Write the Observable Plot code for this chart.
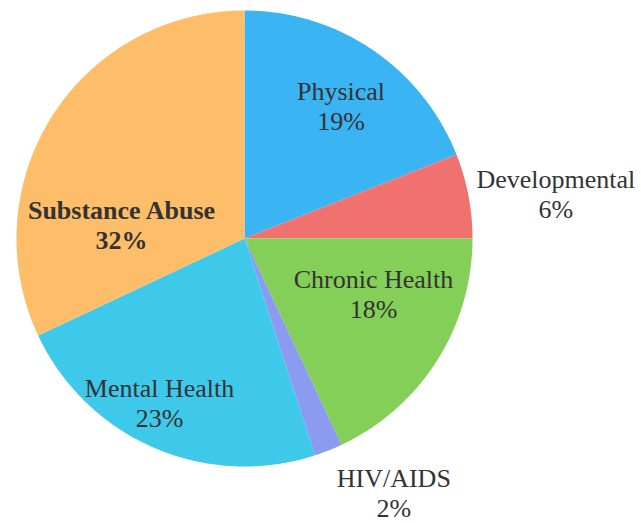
<!DOCTYPE html>
<html>
<head>
<meta charset="utf-8">
<script src="https://cdn.jsdelivr.net/npm/d3@7"></script>
<script src="https://cdn.jsdelivr.net/npm/@observablehq/plot@0.6"></script>
<style>
  html, body { margin: 0; padding: 0; background: #fff; }
  #chart svg { display: block; }
</style>
</head>
<body>
<div id="chart"></div>
<script>
// ---- data ----
const categories = ["Physical", "Developmental", "Chronic Health", "HIV/AIDS", "Mental Health", "Substance Abuse"];
const values = [19, 6, 18, 2, 23, 32];
const colors = ["#3ab4f2", "#f0726f", "#84cf57", "#8a9bf0", "#3ec8ea", "#fdbd69"];

// ---- layout (label placement, polar: degrees clockwise from 12 o'clock, radius in pie radii) ----
const labelAngle = [36, 81.8, 113.1, 149.5, 207.4, 276.5];
const labelRadius = [0.72, 1.38, 0.615, 1.29, 0.81, 0.543];
const boldLabels = ["Substance Abuse"];

const W = 641, H = 523;
const cx = 244, cy = 238, R = 228; // pixel placement of the pie

// build slice polygons from the values
const total = d3.sum(values);
const slices = [];
let acc = 0;
categories.forEach((name, i) => {
  const a0 = acc / total * 2 * Math.PI;
  acc += values[i];
  const a1 = acc / total * 2 * Math.PI;
  const n = Math.max(2, Math.ceil((a1 - a0) / (Math.PI / 360)));
  slices.push({name, x: 0, y: 0});
  for (let k = 0; k <= n; k++) {
    const a = a0 + (a1 - a0) * k / n;
    slices.push({name, x: Math.sin(a), y: Math.cos(a)});
  }
  slices.push({name, x: 0, y: 0});
});

const labels = categories.map((name, i) => {
  const a = labelAngle[i] * Math.PI / 180;
  return {
    name,
    text: `${name}\n${values[i]}%`,
    x: labelRadius[i] * Math.sin(a),
    y: labelRadius[i] * Math.cos(a)
  };
});

const chart = Plot.plot({
  width: W,
  height: H,
  margin: 0,
  x: {domain: [-cx / R, (W - cx) / R], range: [0, W], axis: null},
  y: {domain: [-(H - cy) / R, cy / R], range: [H, 0], axis: null},
  color: {domain: categories, range: colors},
  marks: [
    Plot.line(slices, {x: "x", y: "y", z: "name", fill: "name", stroke: null, curve: "linear"}),
    Plot.text(labels.filter(d => !boldLabels.includes(d.name)), {
      x: "x", y: "y", text: "text",
      fontFamily: "Liberation Serif", fontSize: 26, lineHeight: 30 / 26, fill: "#333333"
    }),
    Plot.text(labels.filter(d => boldLabels.includes(d.name)), {
      x: "x", y: "y", text: "text",
      fontFamily: "Liberation Serif", fontSize: 26, lineHeight: 30 / 26, fill: "#333333", fontWeight: "bold"
    })
  ]
});

document.getElementById("chart").appendChild(chart);
</script>
</body>
</html>
